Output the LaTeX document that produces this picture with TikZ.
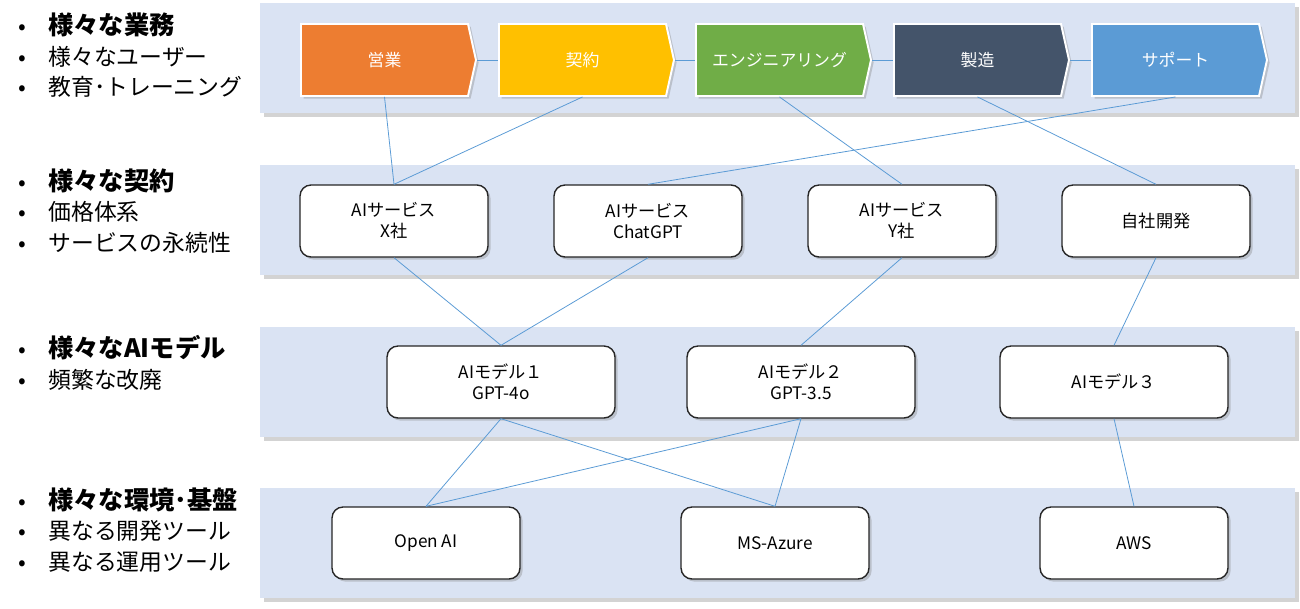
\documentclass[tikz,border=0pt]{standalone}
\usepackage{fontspec}
\setmainfont{Noto Sans CJK JP}
\usetikzlibrary{shapes.symbols,shadows}

\definecolor{bandblue}{HTML}{DAE3F3}
\definecolor{linkblue}{HTML}{5B9BD5}
\definecolor{salesorange}{HTML}{ED7D31}
\definecolor{contractyellow}{HTML}{FFC000}
\definecolor{enggreen}{HTML}{70AD47}
\definecolor{mfgslate}{HTML}{44546A}
\definecolor{supportblue}{HTML}{5B9BD5}

\newcommand{\bul}[1]{\makebox[0.6cm][l]{•}#1}
\newcommand{\hd}[1]{\bul{{\fontsize{14.4pt}{17.3pt}\selectfont\bfseries #1}}}

\tikzset{
  band/.style={fill=bandblue, drop shadow={shadow xshift=2pt, shadow yshift=-2pt, opacity=0.35}},
  stage/.style={signal, signal to=east, signal pointer angle=155, draw=white, line width=1.1pt,
    minimum width=3.5cm, minimum height=1.44cm, inner sep=1pt, text=white,
    font=\fontsize{9.6pt}{11pt}\selectfont,
    drop shadow={shadow xshift=1.5pt, shadow yshift=-1.5pt, opacity=0.35}},
  svcbox/.style={rounded corners=0.22cm, draw=black!85, fill=white, line width=0.8pt,
    minimum width=3.76cm, minimum height=1.44cm, align=center,
    font=\fontsize{9.8pt}{12pt}\selectfont,
    drop shadow={shadow xshift=1.5pt, shadow yshift=-1.5pt, opacity=0.35}},
  modelbox/.style={svcbox, minimum width=4.56cm},
  notes/.style={anchor=west, align=left, inner sep=0pt, font=\fontsize{13pt}{17.3pt}\selectfont},
  link/.style={draw=linkblue, line width=0.45pt}
}

\begin{document}
\begin{tikzpicture}[x=0.02cm, y=-0.02cm]
        \useasboundingbox (0,0) rectangle (1300,608);

        % layers
        \foreach \top in {3,165,327,488}
          \path[band] (260,\top) rectangle (1295,\top+110);

        % notes on the left
        \node[notes] (n1) at (18,55.5) {\hd{様々な業務}\\\bul{様々なユーザー}\\\bul{教育･トレーニング}};
        \node[notes] (n2) at (18,211) {\hd{様々な契約}\\\bul{価格体系}\\\bul{サービスの永続性}};
        \node[notes] (n3) at (18,363) {\hd{様々なAIモデル}\\\bul{頻繁な改廃}};
        \node[notes] (n4) at (18,530) {\hd{様々な環境･基盤}\\\bul{異なる開発ツール}\\\bul{異なる運用ツール}};

        % business stages
        \node[stage, fill=salesorange] (sales) at (384.5,60) {営業};
        \node[stage, fill=contractyellow] (contract) at (582.5,60) {契約};
        \node[stage, fill=enggreen] (engineering) at (779.5,60) {エンジニアリング};
        \node[stage, fill=mfgslate] (manufacturing) at (977.5,60) {製造};
        \node[stage, fill=supportblue] (support) at (1175.5,60) {サポート};

        % services
        \node[svcbox] (svcx) at (394,221) {AIサービス\\X社};
        \node[svcbox] (chatgpt) at (648,221) {AIサービス\\ChatGPT};
        \node[svcbox] (svcy) at (902,221) {AIサービス\\Y社};
        \node[svcbox] (inhouse) at (1156,221) {自社開発};

        % models
        \node[modelbox] (model1) at (501,382) {AIモデル１\\GPT-4o};
        \node[modelbox] (model2) at (801,382) {AIモデル２\\GPT-3.5};
        \node[modelbox] (model3) at (1114,382) {AIモデル３};

        % platforms
        \node[svcbox] (openai) at (426,543) {Open AI};
        \node[svcbox] (azure) at (775,543) {MS-Azure};
        \node[svcbox] (aws) at (1134,543) {AWS};

        \draw[link] (sales.east) edge (contract.west)
              (contract.east) edge (engineering.west)
              (engineering.east) edge (manufacturing.west)
              (manufacturing.east) edge (support.west);

        \draw[link] (sales.south) edge (svcx.north)
              (contract.south) edge (svcx.north)
              (support.south) edge (chatgpt.north)
              (engineering.south) edge (svcy.north)
              (manufacturing.south) edge (inhouse.north);

        \draw[link] (svcx.south) edge (model1.north)
              (chatgpt.south) edge (model1.north)
              (svcy.south) edge (model2.north)
              (inhouse.south) edge (model3.north);

        \draw[link] (model1.south) edge (openai.north)
              (model1.south) edge (azure.north)
              (model2.south) edge (openai.north)
              (model2.south) edge (azure.north)
              (model3.south) edge (aws.north);
    \end{tikzpicture}
\end{document}
